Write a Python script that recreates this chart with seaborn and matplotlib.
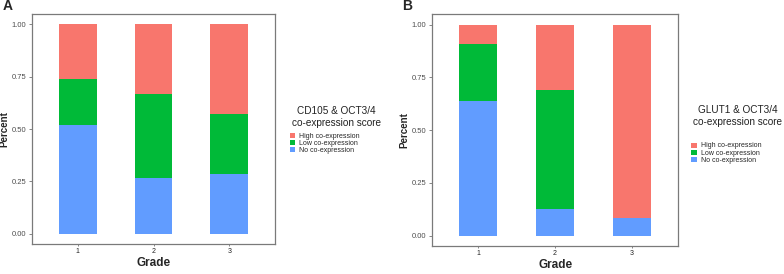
import pandas as pd
import seaborn as sns
import matplotlib.pyplot as plt
from matplotlib.patches import Patch

# dados (proporções por grau)
grades = ['1', '2', '3']
levels = ['High co-expression', 'Low co-expression', 'No co-expression']
colors = ['#F8766D', '#00BA38', '#619CFF']

a_no = [0.519, 0.267, 0.286]
a_low = [0.222, 0.400, 0.286]
a_high = [0.259, 0.333, 0.428]

b_no = [0.636, 0.125, 0.083]
b_low = [0.273, 0.5625, 0.0]
b_high = [0.091, 0.3125, 0.917]

titles = ['CD105 & OCT3/4\nco-expression score', 'GLUT1 & OCT3/4\nco-expression score']


def stacked(no, low, high):
    rows = []
    for g, n, l, h in zip(grades, no, low, high):
        rows.append((g, levels[0], n + l + h))
        rows.append((g, levels[1], n + l))
        rows.append((g, levels[2], n))
    return pd.DataFrame(rows, columns=['Grade', 'score', 'top'])


sns.set_style('white')
plt.rcParams['font.family'] = ['Liberation Sans', 'DejaVu Sans']

fig = plt.figure(figsize=(7.84, 2.74), dpi=100)
ax_a = fig.add_axes([0.0408, 0.109, 0.310, 0.840])
ax_b = fig.add_axes([0.551, 0.102, 0.314, 0.847])

# (eixo, dados, letra, título da legenda, x título, y título, x legenda, y legenda)
panels = [
    (ax_a, stacked(a_no, a_low, a_high), 'A', titles[0], 0.429, 0.573, 0.370, 0.516),
    (ax_b, stacked(b_no, b_low, b_high), 'B', titles[1], 0.941, 0.577, 0.882, 0.480),
]

palette = dict(zip(levels, colors))
handles = [Patch(facecolor=c, edgecolor='none') for c in colors]

for ax, df, tag, ttl, tx, ty, lx, ly in panels:
    sns.barplot(data=df, x='Grade', y='top', hue='score', hue_order=levels,
                order=grades, palette=palette, dodge=False, width=0.5,
                linewidth=0, saturation=1, legend=False, ax=ax)
    ax.set_xlim(-0.6, 2.6)
    ax.set_ylim(-0.05, 1.05)
    ax.set_yticks([0, 0.25, 0.5, 0.75, 1.0])
    ax.set_yticklabels(['0.00', '0.25', '0.50', '0.75', '1.00'])
    ax.tick_params(axis='y', labelsize=5.5, labelcolor='#4D4D4D', length=2,
                   width=0.5, color='#555555', pad=2, left=True)
    ax.tick_params(axis='x', labelsize=5, labelcolor='#222222', length=1.5,
                   width=0.5, color='#555555', pad=1, bottom=True)
    for s in ax.spines.values():
        s.set_color('#7A7A7A')
        s.set_linewidth(0.9)
    ax.set_xlabel('Grade', fontsize=8.5, fontweight='bold', labelpad=2)
    ax.set_ylabel('Percent', fontsize=7, fontweight='bold', labelpad=2)
    fig.text(ax.get_position().x0 - 0.038, 0.977, tag, fontsize=10,
             fontweight='bold', va='center', ha='left')
    fig.text(tx, ty, ttl, fontsize=7.2, ha='center', va='center',
             color='#222222', linespacing=1.15)
    fig.legend(handles=handles, labels=levels, loc='upper left',
               bbox_to_anchor=(lx, ly), frameon=False, fontsize=5,
               handlelength=0.75, handleheight=0.75, handletextpad=0.6,
               labelspacing=0.05, borderpad=0, borderaxespad=0)

plt.savefig('out.png', dpi=100)
